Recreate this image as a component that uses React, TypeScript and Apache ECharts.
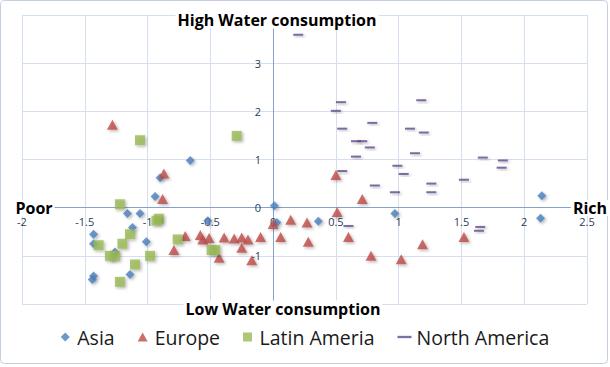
import React, { useEffect, useRef } from "react";
import * as echarts from "echarts";

const FONT = "'Open Sans', Lato, sans-serif";

const seriesNames = ["Asia", "Europe", "Latin Ameria", "North America"];

const xTicks = [-2, -1.5, -1, -0.5, 0, 0.5, 1, 1.5, 2, 2.5];
const yTicks = [-2, -1, 0, 1, 2, 3, 4];

const asia = [
  [-0.66, 0.98], [-0.9, 0.62], [-0.94, 0.23], [-1.16, -0.12], [-1.06, -0.12],
  [-0.52, -0.27], [-1.12, -0.41], [-1.43, -0.55], [-1.43, -0.75], [-1.01, -0.71],
  [-1.26, -0.92], [-1.14, -1.39], [-1.43, -1.42], [-1.44, -1.49], [0.01, 0.04],
  [0.03, -0.31], [0.36, -0.28], [0.97, -0.12], [2.14, 0.25], [2.13, -0.22],
];

const europe = [
  [-1.28, 1.72], [-0.87, 0.71], [-0.88, 0.18], [-0.7, -0.59], [-0.58, -0.57],
  [-0.56, -0.66], [-0.51, -0.63], [-0.39, -0.62], [-0.31, -0.64], [-0.25, -0.62],
  [-0.2, -0.66], [-0.1, -0.61], [-0.79, -0.88], [-0.25, -0.83], [-0.43, -1.04],
  [-0.17, -1.09], [0.0, -0.34], [0.14, -0.25], [0.06, -0.61], [0.27, -0.31],
  [0.28, -0.71], [0.51, -0.09], [0.5, 0.68], [0.71, 0.18], [0.6, -0.61],
  [0.78, -1.0], [1.02, -1.07], [1.19, -0.76], [1.52, -0.61],
];

const latinAmerica = [
  [-1.06, 1.4], [-0.29, 1.49], [-1.22, 0.07], [-0.91, -0.23], [-0.93, -0.27],
  [-1.14, -0.55], [-1.39, -0.78], [-1.2, -0.75], [-0.76, -0.66], [-1.3, -1.0],
  [-1.26, -1.0], [-0.98, -1.0], [-1.1, -1.18], [-1.22, -1.54], [-0.49, -0.88],
  [-0.46, -0.88],
];

const northAmerica = [
  [0.2, 3.59], [0.54, 2.19], [0.5, 2.01], [1.18, 2.23], [0.79, 1.76],
  [0.55, 1.64], [1.09, 1.64], [1.2, 1.56], [0.66, 1.38], [0.71, 1.38],
  [0.77, 1.25], [0.66, 1.06], [1.13, 1.13], [1.67, 1.04], [1.83, 0.98],
  [1.82, 0.83], [0.99, 0.87], [1.04, 0.7], [0.55, 0.76], [0.81, 0.46],
  [1.52, 0.58], [1.26, 0.5], [1.26, 0.32], [0.97, 0.32], [0.6, -0.38],
  [1.65, -0.4], [1.64, -0.48],
];

const shadow = {
  shadowBlur: 3,
  shadowColor: "rgba(0,0,0,0.35)",
  shadowOffsetX: 1.5,
  shadowOffsetY: 1.5,
};

const W = 610;
const H = 367;
const GRID = { left: 22, right: 23, top: 15, bottom: 63 };

export default function App() {
  const ref = useRef<HTMLDivElement>(null);
  useEffect(() => {
    document.body.style.margin = "0";
    const chart = echarts.init(ref.current!, null, { renderer: "svg" });
    const labelColor = "#2b3b58";
    const titleFont = `bold 16px ${FONT}`;
    const xMin = xTicks[0];
    const xMax = xTicks[xTicks.length - 1];
    const yMin = yTicks[0];
    const yMax = yTicks[yTicks.length - 1];
    const plotW = W - GRID.left - GRID.right;
    const plotH = H - GRID.top - GRID.bottom;
    // shift the axes so they cross at the origin (labels travel with them)
    const yAxisOffset = -((0 - xMin) / (xMax - xMin)) * plotW;
    const xAxisOffset = -((0 - yMin) / (yMax - yMin)) * plotH;
    chart.setOption({
      animation: false,
      backgroundColor: "#ffffff",
      textStyle: { fontFamily: FONT },
      grid: GRID,
      xAxis: {
        type: "value",
        position: "bottom",
        offset: xAxisOffset,
        min: xMin,
        max: xMax,
        interval: 0.5,
        axisLine: { show: true, onZero: false, lineStyle: { color: "#86a2cc", width: 1 } },
        axisTick: { show: false },
        axisLabel: {
          color: labelColor,
          fontSize: 11,
          margin: 8,
          showMinLabel: true,
          showMaxLabel: true,
          formatter: (v: number) => String(v),
        },
        splitLine: { show: true, lineStyle: { color: "#d5dfee" } },
      },
      yAxis: {
        type: "value",
        position: "left",
        offset: yAxisOffset,
        min: yMin,
        max: yMax,
        interval: 1,
        axisLine: { show: true, onZero: false, lineStyle: { color: "#86a2cc", width: 1 } },
        axisTick: { show: false },
        axisLabel: {
          color: labelColor,
          fontSize: 11,
          margin: 12,
          showMinLabel: true,
          showMaxLabel: true,
        },
        splitLine: { show: true, lineStyle: { color: "#d5dfee" } },
      },
      legend: {
        top: 322,
        left: "center",
        itemWidth: 14,
        itemHeight: 9,
        itemGap: 23,
        symbolKeepAspect: true,
        textStyle: { fontSize: 19.5, color: "#1a1a1a", fontFamily: FONT },
        data: [
          { name: seriesNames[0], icon: "path://M4,0L8,4L4,8L0,4Z" },
          { name: seriesNames[1], icon: "path://M5,0L10,9L0,9Z" },
          { name: seriesNames[2], icon: "path://M0,0h8v8h-8z" },
          { name: seriesNames[3], icon: "path://M0,0h6v1h-6z" },
        ],
      },
      graphic: [
        {
          type: "rect",
          shape: { x: 0.5, y: 0.5, width: 607, height: 363, r: 4 },
          style: { fill: "none", stroke: "#c3cfdf", lineWidth: 1 },
          silent: true,
          z: 100,
        },
        {
          type: "text",
          x: 277,
          y: 20,
          z: 100,
          style: {
            text: "High Water consumption",
            font: titleFont,
            fill: "#000",
            align: "center",
            verticalAlign: "middle",
            backgroundColor: "#ffffff",
            padding: [1, 2, 0, 2],
          },
        },
        {
          type: "text",
          x: 283,
          y: 309,
          z: 100,
          style: {
            text: "Low Water consumption",
            font: titleFont,
            fill: "#000",
            align: "center",
            verticalAlign: "middle",
            backgroundColor: "#ffffff",
            padding: [1, 2, 0, 2],
          },
        },
        {
          type: "text",
          x: 34,
          y: 208,
          z: 100,
          style: {
            text: "Poor",
            font: titleFont,
            fill: "#000",
            align: "center",
            verticalAlign: "middle",
            backgroundColor: "#ffffff",
            padding: [0, 2, 0, 2],
          },
        },
        {
          type: "text",
          x: 590,
          y: 208,
          z: 100,
          style: {
            text: "Rich",
            font: titleFont,
            fill: "#000",
            align: "center",
            verticalAlign: "middle",
            backgroundColor: "#ffffff",
            padding: [0, 2, 0, 2],
          },
        },
      ],
      series: [
        {
          name: seriesNames[0],
          type: "scatter",
          symbol: "diamond",
          symbolSize: 9,
          data: asia,
          itemStyle: { color: "#4a7ebb", ...shadow },
        },
        {
          name: seriesNames[1],
          type: "scatter",
          symbol: "triangle",
          symbolSize: [11, 10],
          data: europe,
          itemStyle: { color: "#be4b48", ...shadow },
        },
        {
          name: seriesNames[2],
          type: "scatter",
          symbol: "rect",
          symbolSize: 10,
          data: latinAmerica,
          itemStyle: { color: "#98b954", ...shadow },
        },
        {
          name: seriesNames[3],
          type: "scatter",
          symbol: "rect",
          symbolSize: [10, 2],
          data: northAmerica,
          itemStyle: { color: "#5f4b8b", ...shadow },
        },
      ],
    });
    return () => chart.dispose();
  }, []);
  return <div ref={ref} style={{ width: W, height: H }} />;
}
